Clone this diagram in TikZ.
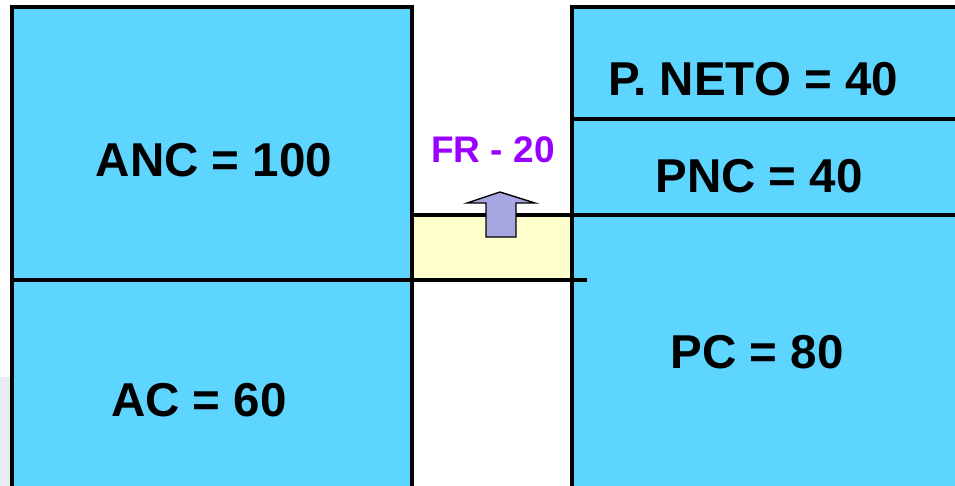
\documentclass[tikz,border=0pt]{standalone}
\usepackage{fontspec}
\setmainfont{Liberation Sans}
\usepackage{xcolor}
\usetikzlibrary{positioning}
\definecolor{boxblue}{HTML}{5DD5FF}
\definecolor{fryellow}{HTML}{FFFFCC}
\definecolor{arrowlav}{HTML}{A6A6E0}
\definecolor{frpurple}{HTML}{9900FF}
\definecolor{slidegrey}{HTML}{E8EBF4}

\begin{document}
\begin{tikzpicture}[x=1pt, y=-1pt, line width=3.2pt,
    block/.style={draw, fill=boxblue, anchor=north west, inner sep=0pt, outer sep=0pt},
    amount/.style={font=\fontsize{47.5}{52}\selectfont\bfseries}]
    \useasboundingbox (0,0) rectangle (955,485);
    \clip (0,0) rectangle (955,485);

    % faint slide edge at the left
    \fill[slidegrey] (0,377) rectangle (10,490);

    % fondo de rotacion
    \node[fill=fryellow, draw, anchor=north west, minimum width=160pt, minimum height=65pt, inner sep=0pt, outer sep=0pt] (fr) at (412,215) {};

    % activo
    \node[block, minimum width=400pt, minimum height=273pt] (anc) at (12,7) {};
    \node[block, minimum width=400pt, minimum height=215pt] (ac) at (12,280) {};

    % pasivo
    \node[block, minimum width=390pt, minimum height=112pt] (pneto) at (572,7) {};
    \node[block, minimum width=390pt, minimum height=96pt] (pnc) at (572,119) {};
    \node[block, minimum width=390pt, minimum height=280pt] (pc) at (572,215) {};

    \draw (anc.south west) -- ++(575,0);
    \draw (fr.north west) -- (pc.north east);

    \node[amount] (ancl) at (214,160) {ANC = 100};
    \node[amount] (acl) at (199,400) {AC = 60};
    \node[amount] (pnetol) at (753,79) {P. NETO = 40};
    \node[amount] (pncl) at (759,176) {PNC = 40};
    \node[amount] (pcl) at (757,352) {PC = 80};
    \node[font=\fontsize{37}{41}\selectfont\bfseries, text=frpurple] (frl) at (493,150) {FR - 20};

    \draw[fill=arrowlav, line width=1.4pt] (486,237) -- (486,203) -- (467,203) -- (500,192) -- (535,203) -- (516,203) -- (516,237) -- cycle;
\end{tikzpicture}
\end{document}
